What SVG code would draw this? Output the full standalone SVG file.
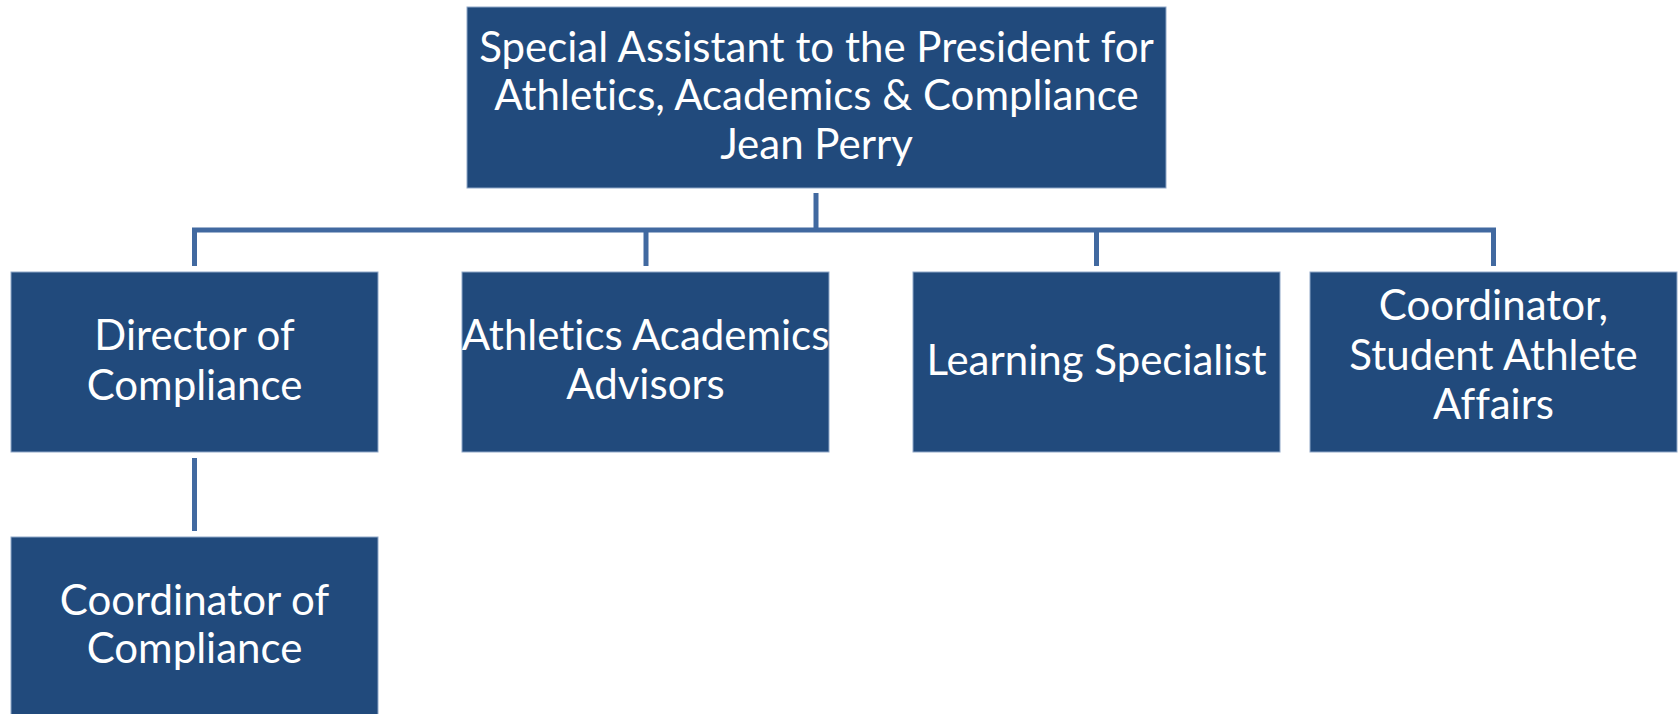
<svg xmlns="http://www.w3.org/2000/svg" width="1679" height="714" viewBox="0 0 1679 714">
<style>
.box{fill:#214A7C;stroke:#8FA7C8;stroke-width:1}
.t{font-family:Lato,"Liberation Sans",sans-serif;font-size:42px;fill:#FFFFFF;text-anchor:middle;font-variant-ligatures:none;font-feature-settings:"liga" 0}
.c{stroke:#4169A0;stroke-width:5;fill:none}
</style>
<rect width="1679" height="714" fill="#FFFFFF"/>
<g id="connectors">
<line class="c" x1="816" y1="193" x2="816" y2="230"/>
<path class="c" d="M194.5,266 V230 H1493.5 V266"/>
<line class="c" x1="646" y1="230" x2="646" y2="266"/>
<line class="c" x1="1096.5" y1="230" x2="1096.5" y2="266"/>
<line class="c" x1="194.5" y1="458" x2="194.5" y2="531"/>
</g>
<g id="n-top">
<rect class="box" x="467" y="7" width="699" height="181"/>
<text class="t" x="816.5" y="62">Special Assistant to the President for</text>
<text class="t" x="816.5" y="110">Athletics, Academics &amp; Compliance</text>
<text class="t" x="816.5" y="159">Jean Perry</text>
</g>
<g id="n-director">
<rect class="box" x="11" y="272" width="367" height="180"/>
<text class="t" x="194.5" y="350">Director of</text>
<text class="t" x="194.5" y="400">Compliance</text>
</g>
<g id="n-advisors">
<rect class="box" x="462" y="272" width="367" height="180"/>
<text class="t" x="645.5" y="350">Athletics Academics</text>
<text class="t" x="645.5" y="399">Advisors</text>
</g>
<g id="n-learning">
<rect class="box" x="913" y="272" width="367" height="180"/>
<text class="t" x="1096.5" y="375">Learning Specialist</text>
</g>
<g id="n-coordinator-saa">
<rect class="box" x="1310" y="272" width="367" height="180"/>
<text class="t" x="1493.5" y="320">Coordinator,</text>
<text class="t" x="1493.5" y="370">Student Athlete</text>
<text class="t" x="1493.5" y="419">Affairs</text>
</g>
<g id="n-coordinator-comp">
<rect class="box" x="11" y="537" width="367" height="180"/>
<text class="t" x="194.5" y="615">Coordinator of</text>
<text class="t" x="194.5" y="663">Compliance</text>
</g>
</svg>
